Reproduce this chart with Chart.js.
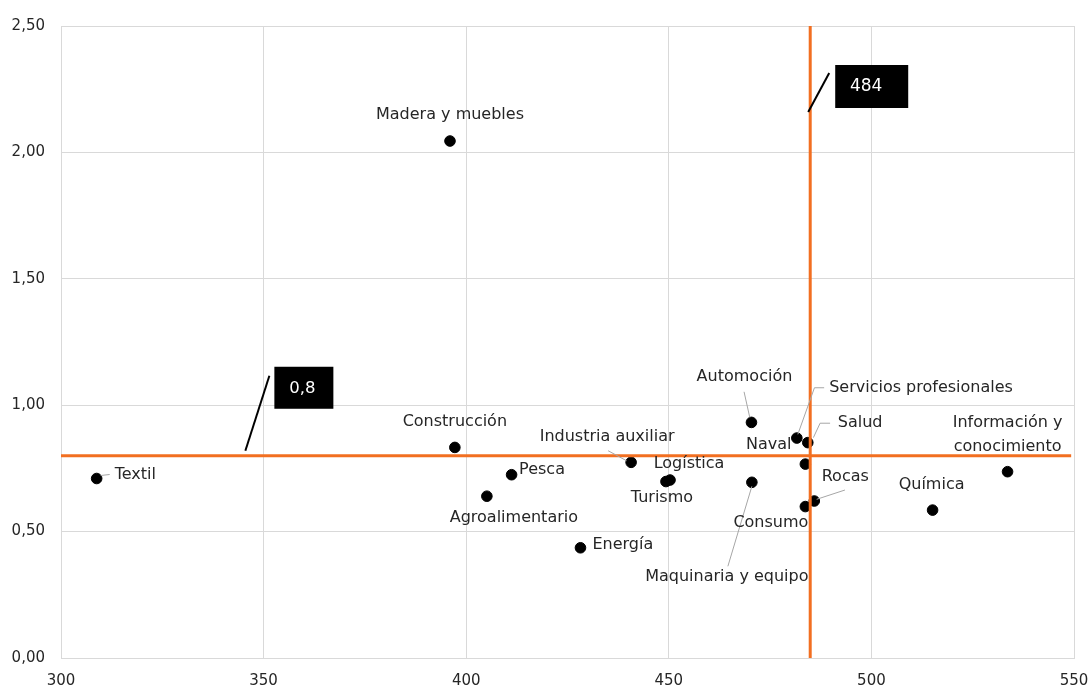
<!DOCTYPE html>
<html lang="es">
<head>
<meta charset="utf-8">
<title>Sectores</title>
<script src="https://cdn.jsdelivr.net/npm/chart.js@4.4.1/dist/chart.umd.min.js"></script>
<style>
  html, body { margin: 0; padding: 0; background: #ffffff; }
  #wrap { width: 1091px; height: 691px; position: relative; }
</style>
</head>
<body>
<div id="wrap"><canvas id="chart" width="1091" height="691"></canvas></div>
<script>
// Sector names and their coordinates (x = productividad, y = índice)
const sectors = [
  'Textil', 'Madera y muebles', 'Construcción', 'Pesca', 'Agroalimentario',
  'Energía', 'Industria auxiliar', 'Logística', 'Turismo', 'Automoción',
  'Servicios profesionales', 'Salud', 'Naval', 'Maquinaria y equipo',
  'Rocas', 'Consumo', 'Química', 'Información y conocimiento'
];
const xValues = [
  308.8, 396.0, 397.2, 411.2, 405.1,
  428.2, 440.7, 450.3, 449.3, 470.4,
  481.6, 484.3, 483.7, 470.5,
  485.9, 483.7, 515.1, 533.6
];
const yValues = [
  0.71, 2.045, 0.833, 0.725, 0.64,
  0.436, 0.774, 0.704, 0.698, 0.932,
  0.87, 0.852, 0.767, 0.695,
  0.621, 0.599, 0.585, 0.737
];

// Reference thresholds
const xThreshold = 484.9;
const yThreshold = 0.8;

// Axis ranges and ticks
const xTicks = [300, 350, 400, 450, 500, 550];
const yTicks = [0, 0.5, 1, 1.5, 2, 2.5];

const ORANGE = '#f26f21';
const TEXT = '#262626';
const LABEL_FONT = '16px "DejaVu Sans"';

// Label placement relative to each dot (pixels), with optional leader lines
const labelPlacement = {
  'Textil':                     { dx: 18, dy: -4, align: 'left', leader: [[4, -3], [13, -4]] },
  'Madera y muebles':           { dx: 0, dy: -26, align: 'center' },
  'Construcción':               { dx: 0, dy: -26, align: 'center' },
  'Pesca':                      { dx: 7.5, dy: -5, align: 'left' },
  'Agroalimentario':            { dx: 27, dy: 22, align: 'center' },
  'Energía':                    { dx: 12, dy: -3, align: 'left' },
  'Industria auxiliar':         { dx: -24, dy: -25, align: 'center', leader: [[-23, -11.6], [-4.6, -1.6]] },
  'Logística':                  { dx: 19, dy: -16, align: 'center' },
  'Turismo':                    { dx: -4, dy: 16, align: 'center' },
  'Automoción':                 { dx: -7, dy: -46, align: 'center', leader: [[-7.4, -30.6], [-1.7, -5]] },
  'Servicios profesionales':    { dx: 32.3, dy: -50.7, align: 'left', leader: [[1, -3.7], [17.6, -50.3], [27.3, -50.3]] },
  'Salud':                      { dx: 30, dy: -19.4, align: 'left', leader: [[5.6, -5], [12.3, -19.4], [22.3, -19.4]] },
  'Naval':                      { dx: -36.6, dy: -19.7, align: 'center' },
  'Maquinaria y equipo':        { dx: -25, dy: 94.4, align: 'center', leader: [[0, 4], [-24, 84]] },
  'Rocas':                      { dx: 31, dy: -23.7, align: 'center', leader: [[2.4, -1.7], [30.7, -11]] },
  'Consumo':                    { dx: -34.5, dy: 16.6, align: 'center' },
  'Química':                    { dx: -1, dy: -25.7, align: 'center' },
  'Información y conocimiento': { dx: 0, dy: -48.4, align: 'center', lines: ['Información y', 'conocimiento'], lineGap: 23.4 }
};

const points = sectors.map((name, i) => ({ x: xValues[i], y: yValues[i], name }));

const fmtComma = (v, d) => v.toFixed(d).replace('.', ',');

// Draws the sector names, leader lines and the threshold call-outs
const annotations = {
  id: 'sectorLabels',
  afterDatasetsDraw(chart) {
    const ctx = chart.ctx;
    const meta = chart.getDatasetMeta(2);
    const xs = chart.scales.x, ys = chart.scales.y;
    ctx.save();

    // leader lines
    ctx.strokeStyle = '#a6a6a6';
    ctx.lineWidth = 1;
    meta.data.forEach((el, i) => {
      const p = labelPlacement[sectors[i]];
      if (!p || !p.leader) return;
      ctx.beginPath();
      p.leader.forEach(([lx, ly], k) => {
        const X = el.x + lx, Y = el.y + ly;
        if (k === 0) ctx.moveTo(X, Y); else ctx.lineTo(X, Y);
      });
      ctx.stroke();
    });

    // names
    ctx.font = LABEL_FONT;
    ctx.fillStyle = TEXT;
    ctx.textBaseline = 'middle';
    meta.data.forEach((el, i) => {
      const p = labelPlacement[sectors[i]];
      ctx.textAlign = p.align;
      const lines = p.lines || [sectors[i]];
      lines.forEach((t, k) => {
        ctx.fillText(t, el.x + p.dx, el.y + p.dy + k * (p.lineGap || 0));
      });
    });

    // call-out for the vertical threshold
    const vx = xs.getPixelForValue(xThreshold);
    const top = chart.chartArea.top;
    ctx.strokeStyle = '#000000';
    ctx.lineWidth = 2;
    ctx.beginPath();
    ctx.moveTo(vx - 2, top + 86);
    ctx.lineTo(vx + 19, top + 47);
    ctx.stroke();
    ctx.fillStyle = '#000000';
    ctx.fillRect(vx + 25, top + 39, 73, 43);
    ctx.fillStyle = '#ffffff';
    ctx.font = '17px "DejaVu Sans"';
    ctx.textAlign = 'center';
    ctx.fillText(String(Math.floor(xThreshold)), vx + 56, top + 61);

    // call-out for the horizontal threshold
    const hy = ys.getPixelForValue(yThreshold);
    const lx = xs.getPixelForValue(345.5);
    ctx.strokeStyle = '#000000';
    ctx.beginPath();
    ctx.moveTo(lx, hy - 5);
    ctx.lineTo(lx + 24, hy - 80);
    ctx.stroke();
    ctx.fillStyle = '#000000';
    ctx.fillRect(lx + 29, hy - 89, 59, 42);
    ctx.fillStyle = '#ffffff';
    ctx.font = '16.5px "DejaVu Sans"';
    ctx.fillText(fmtComma(yThreshold, 1), lx + 57, hy - 67);

    ctx.restore();
  }
};

new Chart(document.getElementById('chart'), {
  type: 'scatter',
  data: {
    datasets: [
      {
        label: 'Umbral X',
        data: [{ x: xThreshold, y: 0 }, { x: xThreshold, y: 2.5 }],
        showLine: true,
        borderColor: ORANGE,
        borderWidth: 3,
        pointRadius: 0,
        order: 0
      },
      {
        label: 'Umbral Y',
        data: [{ x: 300, y: yThreshold }, { x: 549.3, y: yThreshold }],
        showLine: true,
        borderColor: ORANGE,
        borderWidth: 3,
        pointRadius: 0,
        order: 0
      },
      {
        label: 'Sectores',
        data: points,
        backgroundColor: '#000000',
        borderColor: '#000000',
        pointRadius: 5.3,
        pointHoverRadius: 5.3,
        order: 1
      }
    ]
  },
  options: {
    responsive: false,
    animation: false,
    layout: { padding: { top: 26, right: 17, left: 0, bottom: 0 } },
    plugins: { legend: { display: false }, tooltip: { enabled: false } },
    scales: {
      x: {
        type: 'linear',
        min: xTicks[0],
        max: xTicks[xTicks.length - 1],
        afterBuildTicks: (s) => { s.ticks = xTicks.map(v => ({ value: v })); },
        afterFit: (s) => { s.height = 33; s.paddingRight = 0; s.paddingLeft = 0; },
        ticks: {
          color: TEXT,
          font: { family: 'DejaVu Sans', size: 15 },
          padding: 14,
          maxRotation: 0,
          callback: (v) => String(v)
        },
        grid: { color: '#d9d9d9', lineWidth: 1, drawTicks: false },
        border: { color: '#d9d9d9', width: 1 }
      },
      y: {
        type: 'linear',
        min: yTicks[0],
        max: yTicks[yTicks.length - 1],
        afterBuildTicks: (s) => { s.ticks = yTicks.map(v => ({ value: v })); },
        afterFit: (s) => { s.width = 61; s.paddingTop = 0; s.paddingBottom = 0; },
        ticks: {
          color: TEXT,
          font: { family: 'DejaVu Sans', size: 15 },
          padding: 16,
          callback: (v) => fmtComma(v, 2)
        },
        grid: { color: '#d9d9d9', lineWidth: 1, drawTicks: false },
        border: { color: '#d9d9d9', width: 1 }
      }
    }
  },
  plugins: [annotations]
});
</script>
</body>
</html>
